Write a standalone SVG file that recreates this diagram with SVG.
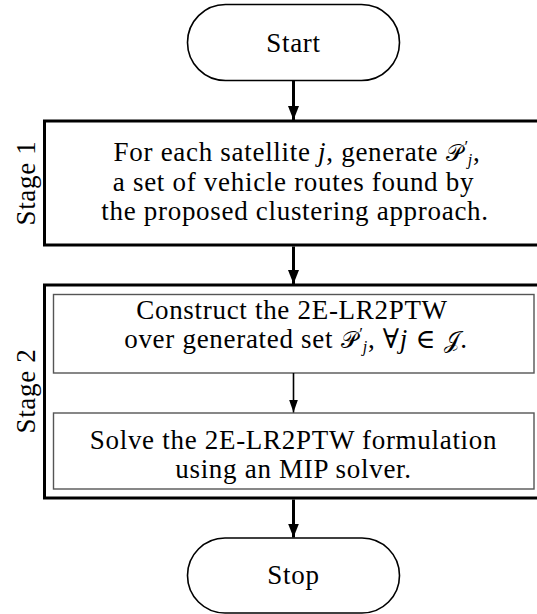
<svg xmlns="http://www.w3.org/2000/svg" width="537" height="614" viewBox="0 0 537 614">
  <style>
    text { font-family: "Liberation Serif", "DejaVu Serif", serif; fill: #000; }
    .lbl { font-size: 27px; text-anchor: middle; letter-spacing: 0.7px; }
    .term { fill: #fff; stroke: #000; stroke-width: 1.6; }
    .stage { fill: #fff; stroke: #000; stroke-width: 3; }
    .step { fill: #fff; stroke: #555; stroke-width: 1.4; }
    .thick { stroke: #000; stroke-width: 3; fill: none; }
    .thin { stroke: #000; stroke-width: 1.6; fill: none; }
    .m { font-style: italic; }
    .cal { font-size: 23px; }
    .sup { font-size: 17px; }
    .sub { font-size: 16px; font-style: italic; }
  </style>
  <defs>
    <marker id="headBig" markerUnits="userSpaceOnUse" markerWidth="14" markerHeight="14" refX="14" refY="7" orient="auto">
      <path d="M0,1.5 L14,7 L0,12.5 Z" fill="#000"/>
    </marker>
    <marker id="headSmall" markerUnits="userSpaceOnUse" markerWidth="14" markerHeight="12" refX="13" refY="6" orient="auto">
      <path d="M0,1.5 L13,6 L0,10.5 Z" fill="#000"/>
    </marker>
  </defs>

  <!-- terminal: start -->
  <g id="start">
    <rect class="term" x="187.5" y="4.5" width="212" height="76" rx="38" ry="38"/>
    <text class="lbl" x="293.5" y="52">Start</text>
  </g>

  <!-- stage 1 -->
  <g id="stage1">
    <rect class="stage" x="44.5" y="121" width="498" height="124"/>
    <text class="lbl" transform="translate(35,183) rotate(-90)">Stage 1</text>
    <text class="lbl" x="297" y="161">For each satellite <tspan class="m">j</tspan>, generate <tspan class="cal">𝒫</tspan><tspan class="sup" dx="1" dy="-9">′</tspan><tspan class="sub" dx="-1" dy="13">j</tspan><tspan dy="-4">,</tspan></text>
    <text class="lbl" x="293.5" y="191">a set of vehicle routes found by</text>
    <text class="lbl" x="295" y="220">the proposed clustering approach.</text>
  </g>

  <!-- stage 2 container -->
  <g id="stage2">
    <rect class="stage" x="44.5" y="285" width="498" height="213"/>
    <text class="lbl" transform="translate(35,391) rotate(-90)">Stage 2</text>
  </g>

  <g id="construct">
    <rect class="step" x="53.5" y="294.5" width="480.5" height="78.5"/>
    <text class="lbl" x="292" y="319">Construct the 2E-LR2PTW</text>
    <text class="lbl" x="296" y="348">over generated set <tspan class="cal">𝒫</tspan><tspan class="sup" dx="1" dy="-9">′</tspan><tspan class="sub" dx="-1" dy="13">j</tspan><tspan dy="-4">, ∀</tspan><tspan class="m">j</tspan> ∈ <tspan class="cal">𝒥</tspan>.</text>
  </g>

  <g id="solve">
    <rect class="step" x="53.5" y="413" width="480.5" height="76"/>
    <text class="lbl" x="293.5" y="449">Solve the 2E-LR2PTW formulation</text>
    <text class="lbl" x="293.5" y="478">using an MIP solver.</text>
  </g>

  <!-- terminal: stop -->
  <g id="stop">
    <rect class="term" x="187.5" y="538" width="212" height="75" rx="37.5" ry="37.5"/>
    <text class="lbl" x="293.5" y="584">Stop</text>
  </g>

  <!-- connectors -->
  <g id="connectors">
    <line class="thick" x1="293.5" y1="81" x2="293.5" y2="120" marker-end="url(#headBig)"/>
    <line class="thick" x1="293.5" y1="246.5" x2="293.5" y2="284" marker-end="url(#headBig)"/>
    <line class="thin" x1="293.5" y1="373" x2="293.5" y2="412.5" marker-end="url(#headSmall)"/>
    <line class="thick" x1="293.5" y1="499.5" x2="293.5" y2="537.5" marker-end="url(#headBig)"/>
  </g>
</svg>
